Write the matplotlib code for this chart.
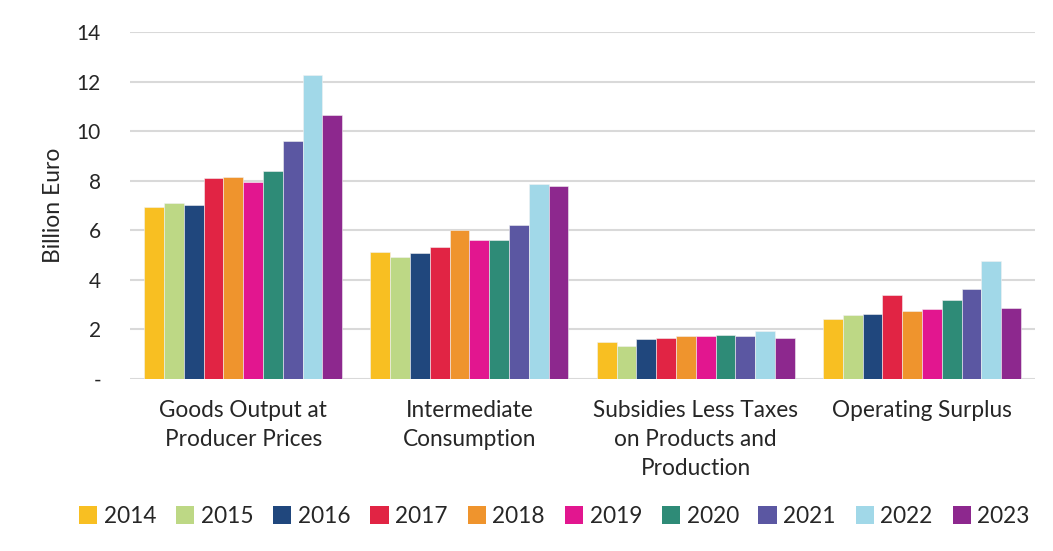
import numpy as np
import matplotlib
matplotlib.use('Agg')
import matplotlib.pyplot as plt
from matplotlib.patches import Patch

#-----------------
# DATA
#-----------------
categories = ['Goods Output at\nProducer Prices',
              'Intermediate\nConsumption',
              'Subsidies Less Taxes\non Products and\nProduction',
              'Operating Surplus']
years = ['2014', '2015', '2016', '2017', '2018', '2019', '2020', '2021', '2022', '2023']

goods_output = [6.96, 7.11, 7.04, 8.12, 8.17, 7.93, 8.38, 9.62, 12.28, 10.64]
intermediate = [5.11, 4.93, 5.08, 5.34, 6.02, 5.60, 5.60, 6.20, 7.87, 7.78]
subsidies = [1.49, 1.32, 1.60, 1.64, 1.72, 1.75, 1.76, 1.72, 1.95, 1.64]
surplus = [2.43, 2.59, 2.63, 3.41, 2.75, 2.84, 3.20, 3.64, 4.78, 2.88]

colors = ['#F8BF22', '#BDD885', '#20477D', '#E12444', '#EF942D',
          '#E2168F', '#2E8B77', '#5B57A2', '#A1D8E8', '#8D288E']

yticks = [0, 2, 4, 6, 8, 10, 12, 14]
ytick_labels = ['-', '2', '4', '6', '8', '10', '12', '14']

#-----------------
# PLOT
#-----------------
plt.rcParams['font.family'] = ['Lato', 'DejaVu Sans']

values = np.array([goods_output, intermediate, subsidies, surplus])
x = np.arange(len(categories))
bar_w = 0.0875

fig = plt.figure(figsize=(10.53, 5.51), dpi=100)
ax = fig.add_axes([0.1235, 0.312, 0.8595, 0.630])

for i, yr in enumerate(years):
    offs = (i - 4.5) * bar_w
    ax.bar(x + offs, values[:, i], width=bar_w, color=colors[i],
           edgecolor='#F2F2F2', linewidth=0.4, zorder=3, label=yr)

ax.set_xlim(-0.5, 3.5)
ax.set_ylim(0, 14)
ax.set_yticks(yticks)
ax.set_yticklabels(ytick_labels, fontsize=15, color='#262626')
ax.set_xticks(x)
ax.set_xticklabels(categories, fontsize=16.3, color='#262626', linespacing=1.47)
ax.tick_params(axis='both', length=0)
ax.tick_params(axis='y', pad=21)
ax.tick_params(axis='x', pad=15)
ax.set_ylabel('Billion Euro', fontsize=16.5, color='#262626', labelpad=9)

ax.grid(axis='y', color='#D9D9D9', linewidth=1.5, zorder=0)
for s in ['top', 'right', 'left', 'bottom']:
    ax.spines[s].set_visible(False)

handles = [Patch(facecolor=c, label=y) for c, y in zip(colors, years)]
fig.legend(handles=handles, loc='center', bbox_to_anchor=(0.5265, 0.063), ncol=10,
           frameon=False, fontsize=16.3, handlelength=0.8, handleheight=0.8,
           handletextpad=0.3, columnspacing=0.87, labelcolor='#262626')

fig.savefig('out.png', dpi=100)
